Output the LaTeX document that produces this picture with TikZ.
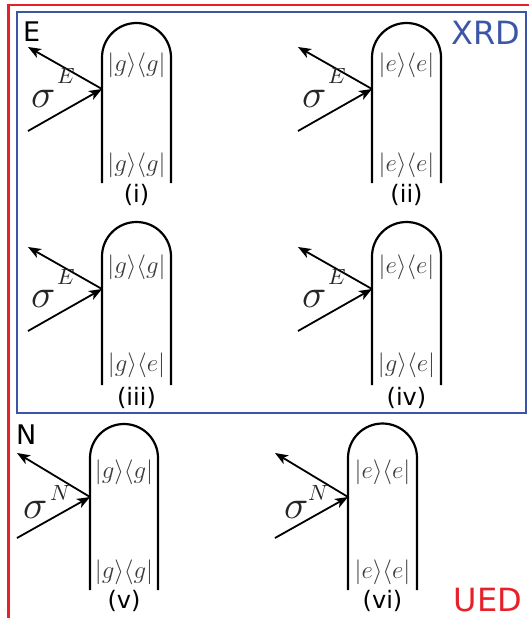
\documentclass[tikz,border=0pt]{standalone}
\usepackage{fontspec}
\setsansfont{DejaVu Sans}
\usetikzlibrary{arrows.meta}
\definecolor{xrdblue}{RGB}{59,86,168}
\definecolor{uedred}{RGB}{232,32,42}
\definecolor{ketgray}{RGB}{60,60,60}
\newcommand\bigsig{\scalebox{4}{$\sigma$}}
\newcommand\supE[1]{\scalebox{2.2}{$#1$}}
\tikzset{
  pill/.style={line width=2.2pt, black},
  ray/.style={line width=1.8pt, -{Stealth[length=13pt,width=10pt,inset=3.5pt]}},
  ket/.style={inner sep=0pt, anchor=base, text=ketgray, font=\fontsize{25}{30}\selectfont},
  sig/.style={inner sep=0pt, anchor=base west, text=black!85, font=\fontsize{10}{12}\selectfont},
  supl/.style={inner sep=0pt, anchor=base west, text=black!85, font=\fontsize{10}{12}\selectfont},
  roman/.style={inner sep=0pt, font=\sffamily\fontsize{24}{28}\selectfont},
  corner/.style={inner sep=0pt, anchor=base west, font=\sffamily\fontsize{27}{31}\selectfont},
  tag/.style={inner sep=0pt, font=\sffamily\fontsize{32}{36}\selectfont}
}
\begin{document}
\begin{tikzpicture}[x=1pt, y=-1pt]
\useasboundingbox (0,0) rectangle (529,618);
% frames
\draw[uedred, line width=2.5pt] (540,5) -- (8.5,5) -- (8.5,630);
\draw[xrdblue, line width=2pt] (17,12) rectangle (526,413);
\node[tag, text=xrdblue] (xrd) at (486,33) {XRD};
\node[tag, text=uedred] (ued) at (488,600) {UED};
\node[corner] (lblE) at (23,42) {E};
\node[corner] (lblN) at (16,444) {N};
% panel (i)
\draw[pill] (102,183) -- (102,57.5) arc[start angle=180, end angle=360, radius=34.5] -- (171,183);
\coordinate (vi1) at (102,89);
\coordinate (oi1) at (28,47);
\coordinate (ii1) at (28,131);
\draw[ray] (vi1) -- (oi1);
\draw[ray] (ii1) -- (vi1);
\node[ket] (t1) at (136.5,71) {$|g\rangle\langle g|$};
\node[ket] (b1) at (136.5,171) {$|g\rangle\langle g|$};
\node[roman] (r1) at (136.5,195) {(i)};
\node[sig] (s1) at (31,107) {\bigsig};
\node[supl] (e1) at (57,83) {\supE{E}};
% panel (ii)
\draw[pill] (372,183) -- (372,57.5) arc[start angle=180, end angle=360, radius=34.5] -- (441,183);
\coordinate (vi2) at (372,89);
\coordinate (oi2) at (298,47);
\coordinate (ii2) at (298,131);
\draw[ray] (vi2) -- (oi2);
\draw[ray] (ii2) -- (vi2);
\node[ket] (t2) at (406.5,71) {$|e\rangle\langle e|$};
\node[ket] (b2) at (406.5,171) {$|e\rangle\langle e|$};
\node[roman] (r2) at (406.5,195) {(ii)};
\node[sig] (s2) at (302,107) {\bigsig};
\node[supl] (e2) at (328,83) {\supE{E}};
% panel (iii)
\draw[pill] (102,385) -- (102,256.5) arc[start angle=180, end angle=360, radius=34.5] -- (171,385);
\coordinate (vi3) at (102,289);
\coordinate (oi3) at (28,247);
\coordinate (ii3) at (28,331);
\draw[ray] (vi3) -- (oi3);
\draw[ray] (ii3) -- (vi3);
\node[ket] (t3) at (136.5,273) {$|g\rangle\langle g|$};
\node[ket] (b3) at (136.5,371) {$|g\rangle\langle e|$};
\node[roman] (r3) at (136.5,398) {(iii)};
\node[sig] (s3) at (31,307) {\bigsig};
\node[supl] (e3) at (57,284) {\supE{E}};
% panel (iv)
\draw[pill] (372,385) -- (372,256.5) arc[start angle=180, end angle=360, radius=34.5] -- (441,385);
\coordinate (vi4) at (372,289);
\coordinate (oi4) at (298,247);
\coordinate (ii4) at (298,331);
\draw[ray] (vi4) -- (oi4);
\draw[ray] (ii4) -- (vi4);
\node[ket] (t4) at (406.5,273) {$|e\rangle\langle e|$};
\node[ket] (b4) at (406.5,371) {$|g\rangle\langle e|$};
\node[roman] (r4) at (406.5,398) {(iv)};
\node[sig] (s4) at (302,307) {\bigsig};
\node[supl] (e4) at (328,284) {\supE{E}};
% panel (v)
\draw[pill] (90,590) -- (90,458) arc[start angle=180, end angle=360, radius=34] -- (158,590);
\coordinate (vi5) at (90,497);
\coordinate (oi5) at (17,453);
\coordinate (ii5) at (17,538);
\draw[ray] (vi5) -- (oi5);
\draw[ray] (ii5) -- (vi5);
\node[ket] (t5) at (124,478) {$|g\rangle\langle g|$};
\node[ket] (b5) at (124,578) {$|g\rangle\langle g|$};
\node[roman] (r5) at (124,601) {(v)};
\node[sig] (s5) at (23,518) {\bigsig};
\node[supl] (n5) at (50,500) {\supE{N}};
% panel (vi)
\draw[pill] (348,590) -- (348,458) arc[start angle=180, end angle=360, radius=34.5] -- (417,590);
\coordinate (vi6) at (348,497);
\coordinate (oi6) at (275,453);
\coordinate (ii6) at (275,538);
\draw[ray] (vi6) -- (oi6);
\draw[ray] (ii6) -- (vi6);
\node[ket] (t6) at (382.5,478) {$|e\rangle\langle e|$};
\node[ket] (b6) at (382.5,578) {$|e\rangle\langle e|$};
\node[roman] (r6) at (382.5,601) {(vi)};
\node[sig] (s6) at (284,518) {\bigsig};
\node[supl] (n6) at (308,500) {\supE{N}};
\end{tikzpicture}
\end{document}
